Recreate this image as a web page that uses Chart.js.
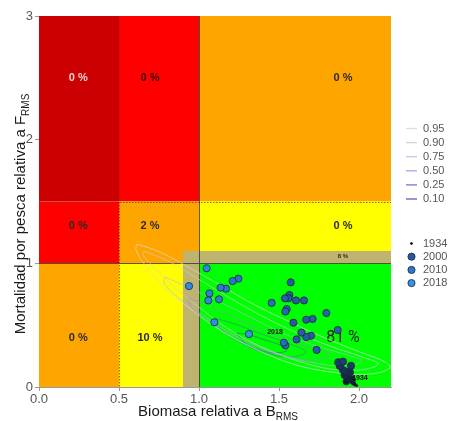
<!DOCTYPE html>
<html><head><meta charset="utf-8">
<script src="https://cdn.jsdelivr.net/npm/chart.js@4/dist/chart.umd.min.js"></script>
<style>html,body{margin:0;padding:0;background:#fff}#wrap{width:449px;height:421px;position:relative}</style>
</head><body><div id="wrap"><canvas id="c" width="449" height="421"></canvas></div>
<script>
// ---- ticks ----
const xTicks = [0, 0.5, 1, 1.5, 2];
const yTicks = [0, 1, 2, 3];

// ---- trajectory (B/BRMS, F/FRMS, year) ----
const years = [1934,1936,1938,1940,1942,1944,1946,1950,1954,1958,1962,1965,1968,1971,1974,1977,1980,
  1987,1988,1989,1990,1991,1992,1993,1994,1995,1996,1997,1998,1999,2000,2001,2002,2003,2004,2005,2006,2007,
  2008,2009,2010,2011,2012,2013,2014,2015,2016,2017,2018];
const bRel = [1.985,1.975,1.965,1.958,1.962,1.95,1.92,1.954,1.93,1.91,1.944,1.92,1.90,1.88,1.95,1.87,1.90,
  1.867,1.796,1.735,1.71,1.70,1.67,1.67,1.64,1.61,1.656,1.606,1.59,1.573,1.565,1.559,1.5375,1.548,1.54,1.54,1.53,1.454,
  1.246,1.21,1.169,1.135,1.125,1.065,1.058,1.048,0.9375,1.096,1.3125];
const fRel = [0.012,0.02,0.03,0.04,0.05,0.058,0.043,0.062,0.075,0.097,0.119,0.124,0.137,0.17,0.172,0.20,0.205,
  0.46,0.598,0.30,0.55,0.415,0.544,0.404,0.44,0.385,0.70,0.70,0.52,0.846,0.744,0.717,0.717,0.63,0.61,0.337,0.358,0.68,
  0.876,0.857,0.795,0.803,0.709,0.757,0.70,0.96,0.816,0.523,0.428];

// ---- zones (data units) ----
const zoneX0 = [0, 0.5, 1, 0, 0.5, 1, 0, 0.5, 1, 0.9, 0.9];
const zoneX1 = [0.5, 1, 2.2, 0.5, 1, 2.2, 0.5, 1, 2.2, 1, 2.2];
const zoneY0 = [1.5, 1.5, 1.5, 1, 1, 1, 0, 0, 0, 0, 1];
const zoneY1 = [3, 3, 3, 1.5, 1.5, 1.5, 1, 1, 1, 1.1, 1.1];

// ---- probability labels ----
const pctText = ['0 %','0 %','0 %','0 %','2 %','0 %','0 %','10 %','81 %','8 %'];
const pctX = [0.245, 0.694, 1.9, 0.245, 0.694, 1.9, 0.245, 0.694, 1.9, 1.9];
const pctY = [2.5, 2.5, 2.5, 1.3, 1.3, 1.3, 0.4, 0.4, 0.4, 1.053];

// ---- year labels ----
const yearLabelText = ['2018', '1934'];
const yearLabelX = [1.475, 2.006];
const yearLabelY = [0.445, 0.075];

// ---- density contours (traced) ----
const contourLevels = ['0.95','0.90','0.75','0.50','0.25','0.10'];
const c95 = [[0.6125,1.156],[0.756,1.091],[0.944,0.962],[1.131,0.825],[1.35,0.663],[1.569,0.525],[1.788,0.396],[2.006,0.283],[2.163,0.202],[2.194,0.154],[2.069,0.105],[1.881,0.113],[1.631,0.170],[1.394,0.283],[1.163,0.437],[0.956,0.622],[0.788,0.800],[0.663,0.986],[0.606,1.108],[0.6125,1.156]];
const c90 = [[0.656,1.099],[0.819,1.011],[1.006,0.865],[1.194,0.719],[1.394,0.574],[1.6,0.445],[1.819,0.331],[2.019,0.243],[2.119,0.186],[2.006,0.137],[1.819,0.146],[1.6,0.218],[1.394,0.323],[1.194,0.461],[1.006,0.639],[0.831,0.825],[0.706,0.986],[0.65,1.067],[0.656,1.099]];
const c75 = [[0.7875,0.889],[0.944,0.800],[1.131,0.687],[1.331,0.558],[1.5375,0.428],[1.756,0.323],[1.944,0.251],[2.019,0.210],[1.9125,0.170],[1.725,0.194],[1.5375,0.251],[1.35,0.340],[1.1625,0.461],[0.975,0.622],[0.831,0.768],[0.781,0.849],[0.7875,0.889]];
const c50 = [[0.931,0.719],[1.069,0.655],[1.225,0.558],[1.394,0.461],[1.569,0.372],[1.744,0.299],[1.819,0.259],[1.725,0.218],[1.569,0.243],[1.394,0.299],[1.225,0.396],[1.069,0.525],[0.956,0.639],[0.931,0.719]];
const c25 = [[1.1,0.558],[1.225,0.509],[1.394,0.428],[1.569,0.348],[1.669,0.283],[1.569,0.243],[1.394,0.283],[1.244,0.372],[1.131,0.477],[1.1,0.558]];
const c10 = [[1.2375,0.437],[1.319,0.420],[1.4125,0.380],[1.506,0.340],[1.55,0.299],[1.475,0.275],[1.381,0.299],[1.2875,0.356],[1.2375,0.437]];
const contours = [c95, c90, c75, c50, c25, c10];

// ---- legend years ----
const legendYears = [1934, 2000, 2010, 2018];

// ===== styles =====
const zoneColors = ['#cc0000','#ff0000','#ffa500','#ff0000','#ffa500','#ffff00','#ffa500','#ffff00','#00ff00','#bfb370','#bfb370'];
const pctColors = ['#f4d4d4','#3a0000','#2a2a2a','#2a2a2a','#2a2a2a','#2a2a2a','#2a2a2a','#2a2a2a','#1a1a1a','#2a2a2a'];
const pctSizes = [11,11,11,11,11,11,11,11,16,6];
const pctWeights = ['bold','bold','bold','bold','bold','bold','bold','bold','normal','bold'];
const contourColors = ['rgba(215,215,215,0.7)','rgba(205,205,220,0.65)','rgba(180,180,225,0.6)','rgba(140,140,215,0.55)','rgba(90,90,200,0.5)','rgba(60,60,185,0.5)'];
const contourLegendColors = ['#dcdcdc','#d2d2e2','#c4c4ec','#a6a6e6','#7676d6','#5a5ac8'];
const FONT = 'Arial, "Liberation Sans", sans-serif';
const BIGFONT = 'Roboto, "Noto Sans", sans-serif';

const colStops = [[1934,[10,15,25]],[1980,[32,62,110]],[1987,[40,95,170]],[2000,[38,90,160]],[2010,[44,120,205]],[2018,[52,146,232]]];
function yearColor(yr){
  for(let i=0;i<colStops.length-1;i++){
    const [y0,c0]=colStops[i],[y1,c1]=colStops[i+1];
    if(yr<=y1){const t=Math.max(0,(yr-y0)/(y1-y0));
      return 'rgb('+c0.map((v,k)=>Math.round(v+(c1[k]-v)*t)).join(',')+')';}
  }
  return 'rgb(52,146,232)';
}
function yearRadius(yr){ return yr<=1934?1:Math.min(3.6,1+(yr-1934)*2.6/14); }

const datasets = [{
  label:'traj',
  data: bRel.map((b,i)=>({x:b,y:fRel[i]})),
  pointRadius: c=>yearRadius(years[c.dataIndex]),
  pointBackgroundColor: c=>yearColor(years[c.dataIndex]),
  pointBorderColor: c=>years[c.dataIndex]<1940?'#000':'#17283f',
  pointBorderWidth: 0.8,
  showLine:false,
  order:0
}];
contours.forEach((cc,i)=>{
  datasets.push({
    label:contourLevels[i],
    data: cc.map(p=>({x:p[0],y:p[1]})),
    showLine:true, pointRadius:0, borderColor:contourColors[i], borderWidth:1,
    tension:0.4, fill:false, order:1
  });
});

function setFont(ctx, weight, size, fam){ ctx.font = (weight==='bold'?'bold ':'') + size + 'px ' + (fam||FONT); }

const decor = {
  id:'decor',
  beforeDatasetsDraw(chart){
    const {ctx, scales:{x,y}} = chart;
    ctx.save();
    for(let i=0;i<zoneX0.length;i++){
      const l=x.getPixelForValue(zoneX0[i]), r=x.getPixelForValue(zoneX1[i]);
      const t=y.getPixelForValue(zoneY1[i]), b=y.getPixelForValue(zoneY0[i]);
      ctx.fillStyle=zoneColors[i]; ctx.fillRect(l,t,r-l,b-t);
    }
    ctx.strokeStyle='rgba(130,50,0,0.75)'; ctx.lineWidth=1; ctx.setLineDash([1.5,1.5]);
    let px=Math.round(x.getPixelForValue(0.5))+0.5;
    ctx.beginPath(); ctx.moveTo(px,y.getPixelForValue(3)); ctx.lineTo(px,y.getPixelForValue(0)); ctx.stroke();
    let py=Math.round(y.getPixelForValue(1.5))+0.5;
    ctx.beginPath(); ctx.moveTo(x.getPixelForValue(0),py); ctx.lineTo(x.getPixelForValue(2.2),py); ctx.stroke();
    ctx.setLineDash([]); ctx.strokeStyle='rgba(60,60,60,0.85)'; ctx.lineWidth=1;
    px=Math.round(x.getPixelForValue(1))+0.5;
    ctx.beginPath(); ctx.moveTo(px,y.getPixelForValue(3)); ctx.lineTo(px,y.getPixelForValue(0)); ctx.stroke();
    py=Math.round(y.getPixelForValue(1))+0.5;
    ctx.beginPath(); ctx.moveTo(x.getPixelForValue(0),py); ctx.lineTo(x.getPixelForValue(2.2),py); ctx.stroke();
    ctx.textAlign='center'; ctx.textBaseline='middle';
    for(let i=0;i<pctText.length;i++){
      setFont(ctx, pctWeights[i], pctSizes[i], pctSizes[i]>12?BIGFONT:FONT); ctx.fillStyle=pctColors[i];
      ctx.fillText(pctText[i], x.getPixelForValue(pctX[i]), y.getPixelForValue(pctY[i]));
    }
    ctx.restore();
  },
  afterDatasetsDraw(chart){
    const {ctx, scales:{x,y}} = chart;
    ctx.save();
    ctx.textAlign='center'; ctx.textBaseline='middle';
    setFont(ctx,'bold',7); ctx.fillStyle='#111';
    for(let i=0;i<yearLabelText.length;i++){
      ctx.fillText(yearLabelText[i], x.getPixelForValue(yearLabelX[i]), y.getPixelForValue(yearLabelY[i]));
    }
    ctx.restore();
  },
  afterDraw(chart){
    const ctx = chart.ctx, ca = chart.chartArea;
    ctx.save();
    ctx.fillStyle='#1a1a1a'; ctx.textBaseline='alphabetic'; ctx.textAlign='left';
    setFont(ctx,'normal',15);
    const mainX='Biomasa relativa a B'; const w1=ctx.measureText(mainX).width;
    setFont(ctx,'normal',10); const w2=ctx.measureText('RMS').width;
    let sx=(ca.left+ca.right)/2+3-(w1+w2)/2;
    setFont(ctx,'normal',15); ctx.fillText(mainX,sx,416);
    setFont(ctx,'normal',10); ctx.fillText('RMS',sx+w1,419.5);
    ctx.save();
    ctx.translate(25, 214); ctx.rotate(-Math.PI/2);
    setFont(ctx,'normal',15); const mainY='Mortalidad por pesca relativa a F'; const w3=ctx.measureText(mainY).width;
    setFont(ctx,'normal',10); const w4=ctx.measureText('RMS').width;
    const sy=-(w3+w4)/2;
    setFont(ctx,'normal',15); ctx.fillText(mainY,sy,0);
    setFont(ctx,'normal',10); ctx.fillText('RMS',sy+w3,3.5);
    ctx.restore();
    // contour legend
    setFont(ctx,'normal',11); ctx.textBaseline='middle';
    const ly0=128.5, lstep=14.1;
    contourLevels.forEach((lv,i)=>{
      const yy=ly0+i*lstep;
      ctx.strokeStyle=contourLegendColors[i]; ctx.lineWidth=1.3;
      ctx.beginPath(); ctx.moveTo(406,yy); ctx.lineTo(417,yy); ctx.stroke();
      ctx.fillStyle='#555'; ctx.fillText(lv,423,yy);
    });
    // year legend
    const yy0=243.5, ystep=13.2;
    legendYears.forEach((yr,i)=>{
      const yy=yy0+i*ystep;
      ctx.beginPath(); ctx.arc(411.5,yy,yearRadius(yr),0,Math.PI*2);
      ctx.fillStyle=yearColor(yr); ctx.fill();
      ctx.strokeStyle=yr<1940?'#000':'#17283f'; ctx.lineWidth=0.8; ctx.stroke();
      ctx.fillStyle='#555'; ctx.fillText(String(yr),423,yy);
    });
    ctx.restore();
  }
};

new Chart(document.getElementById('c'), {
  type:'scatter',
  data:{datasets},
  options:{
    responsive:false, animation:false, devicePixelRatio:1,
    layout:{padding:{top:16,right:58,left:0,bottom:0}},
    plugins:{legend:{display:false},tooltip:{enabled:false}},
    scales:{
      x:{type:'linear',min:0,max:2.2,
        afterBuildTicks:s=>{s.ticks=xTicks.map(v=>({value:v}));},
        afterFit:s=>{s.height=34;},
        ticks:{callback:v=>Number(v).toFixed(1),color:'#555',font:{size:13,family:FONT},padding:1,maxRotation:0,autoSkip:false},
        grid:{display:true,drawOnChartArea:false,drawTicks:true,tickLength:4,color:'#999'},
        border:{display:true,color:'#999'}
      },
      y:{type:'linear',min:0,max:3,
        afterBuildTicks:s=>{s.ticks=yTicks.map(v=>({value:v}));},
        afterFit:s=>{s.width=39;},
        ticks:{callback:v=>String(v),color:'#555',font:{size:13,family:FONT},padding:2,autoSkip:false},
        grid:{display:true,drawOnChartArea:false,drawTicks:true,tickLength:4,color:'#999'},
        border:{display:true,color:'#999'}
      }
    }
  },
  plugins:[decor]
});
</script>
</body></html>
